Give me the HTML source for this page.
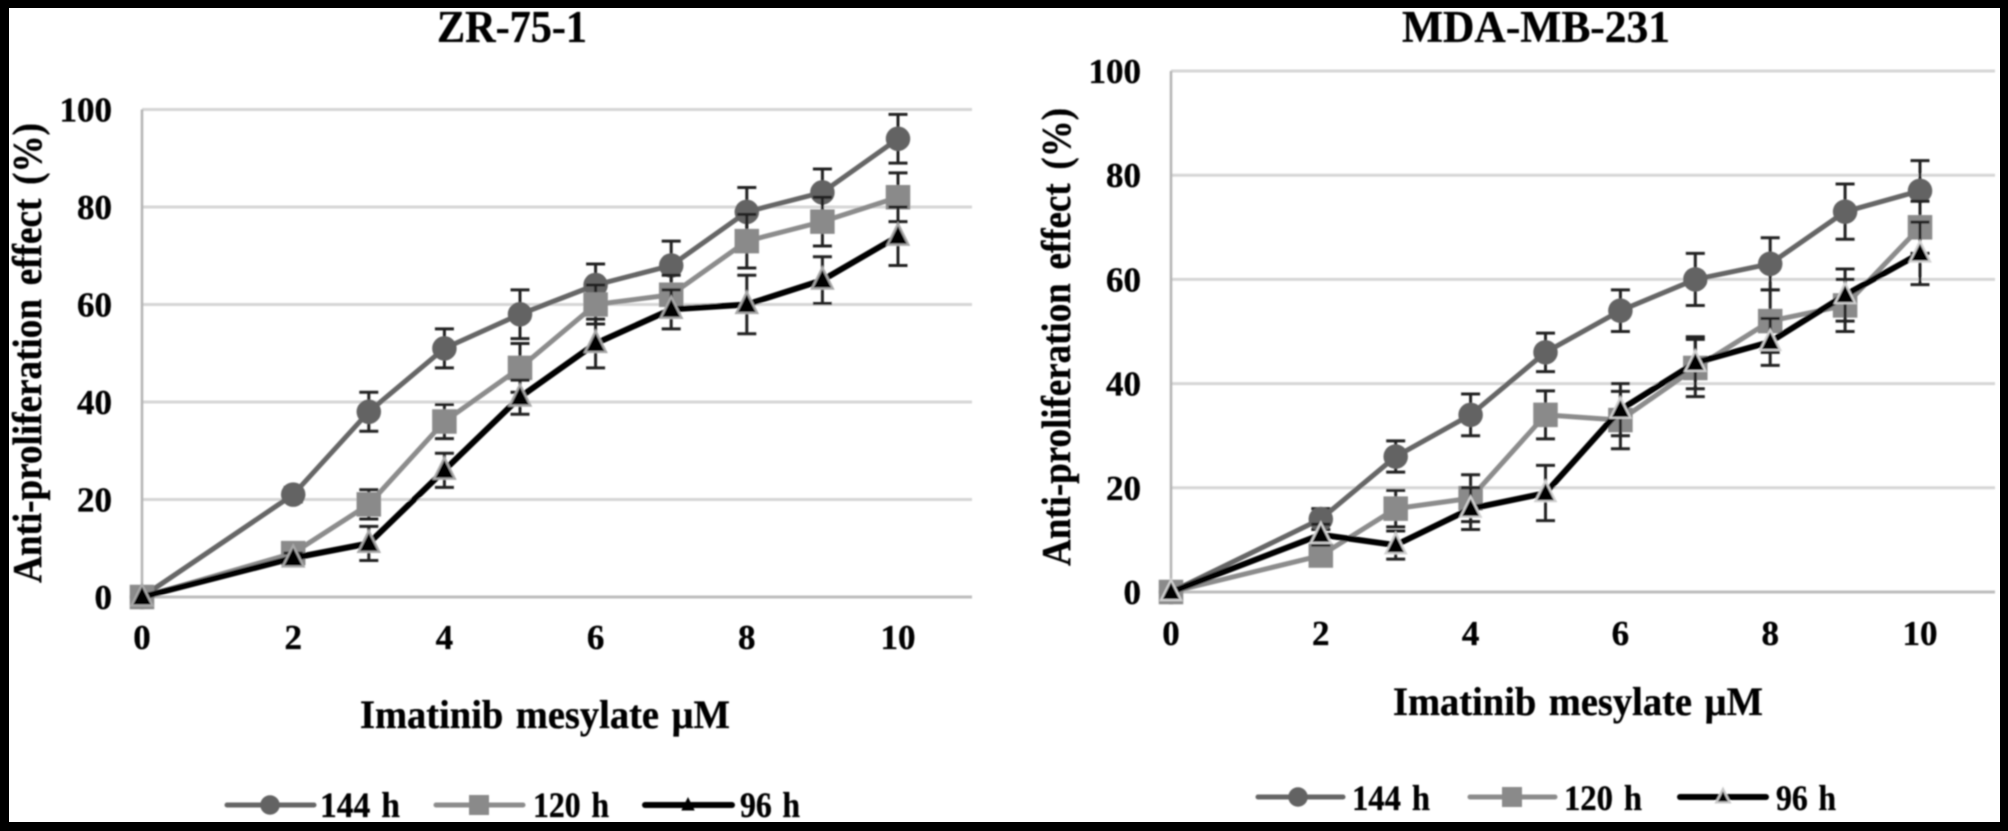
<!DOCTYPE html>
<html lang="en">
<head>
<meta charset="utf-8">
<title>Imatinib mesylate anti-proliferation charts</title>
<style>
html,body{margin:0;padding:0;background:#000;}
svg{display:block;}
text{font-family:"Liberation Serif",serif;font-weight:bold;fill:#000;stroke:#111;stroke-width:0.35px;}
</style>
</head>
<body>
<svg id="fig" xmlns="http://www.w3.org/2000/svg" width="2008" height="831" viewBox="0 0 2008 831">
  <defs>
    <filter id="soft" x="-2%" y="-2%" width="104%" height="104%"><feGaussianBlur stdDeviation="0.8"/></filter>
  </defs>
  <rect x="0" y="0" width="2008" height="831" fill="#ffffff"/>
  <g id="content" filter="url(#soft)"></g>
  <path fill="#000" fill-rule="evenodd" d="M0 0H2008V831H0Z M9 8V822H2000V8Z"/>
</svg>
<script>
const xValues = [0, 2, 3, 4, 5, 6, 7, 8, 9, 10];
const xTickLabels = [0, 2, 4, 6, 8, 10];
const yTickLabels = [0, 20, 40, 60, 80, 100];
const seriesNames = ['144 h', '120 h', '96 h'];

const zr144 = [0, 21, 38, 51, 58, 64, 68, 79, 83, 94];
const zr120 = [0, 9, 19, 36, 47, 60, 62, 73, 77, 82];
const zr96 = [0, 8, 11, 26, 41, 52, 59, 60, 65, 74];
const zr144Err = [0, 1.5, 4, 4, 5, 4.3, 5, 5, 4.8, 5];
const zr120Err = [0, 1, 3, 3.5, 5, 4, 4, 5.5, 5, 5];
const zr96Err = [0, 1, 3.5, 3.5, 3.5, 5, 4, 6, 4.8, 6];

const mda144 = [0, 14, 26, 34, 46, 54, 60, 63, 73, 77];
const mda120 = [0, 7, 16, 18, 34, 33, 43, 52, 55, 70];
const mda96 = [0, 11, 9, 16, 19, 35, 44, 48, 57, 65];
const mda144Err = [0, 2, 3, 4, 3.7, 4, 5, 5, 5.3, 5.8];
const mda120Err = [0, 1, 3.5, 4.5, 4.6, 5.5, 5.5, 6, 5, 5];
const mda96Err = [0, 2, 2.7, 4, 5.3, 5, 5, 4.5, 5, 6];

const panelZr = {
  key: 'zr75', title: 'ZR-75-1', titleX: 437, titleLen: 150, titleY: 42, titleSize: 45,
  x0: 142, xUnit: 75.6, right: 972, y0: 597, yUnit: 4.875,
  yLabelRight: 112, labelSize: 35, xLabelY: 649,
  yTitleX: 41, yTitleTop: 123, yTitleBottom: 583,
  xTitleX: 360, xTitleY: 728, xTitleLen: 370,
  triStroke: '#a8a8a8', triSize: 25, legendTriStroke: 'none',
  legendY: 805, legendBase: 817,
  legend: [[227, 314, 270, 320, 80], [436, 523, 479, 533, 76], [645, 732, 688, 740, 60]],
  series: [zr144, zr120, zr96], errors: [zr144Err, zr120Err, zr96Err]
};
const panelMda = {
  key: 'mda231', title: 'MDA-MB-231', titleX: 1402, titleLen: 268, titleY: 42, titleSize: 45,
  x0: 1171, xUnit: 74.9, right: 1995, y0: 592, yUnit: 5.21,
  yLabelRight: 1141, labelSize: 35, xLabelY: 645,
  yTitleX: 1070, yTitleTop: 108, yTitleBottom: 566,
  xTitleX: 1393, xTitleY: 715, xTitleLen: 370,
  triStroke: '#d0d0d0', triSize: 24, legendTriStroke: '#c8c8c8',
  legendY: 797, legendBase: 810,
  legend: [[1258, 1343, 1298, 1352, 78], [1470, 1555, 1512, 1564, 78], [1680, 1766, 1723, 1776, 60]],
  series: [mda144, mda120, mda96], errors: [mda144Err, mda120Err, mda96Err]
};

const NS = 'http://www.w3.org/2000/svg';
const root = document.getElementById('content');
const lineColors = ['#666666', '#8c8c8c', '#000000'];
const lineWidths = [5, 5, 6];
const slugs = ['144h', '120h', '96h'];

function shape(tag, attrs, parent) {
  const el = document.createElementNS(NS, tag);
  for (const k in attrs) el.setAttribute(k, attrs[k]);
  parent.appendChild(el);
  return el;
}
function xScale(p, v) { return p.x0 + v * p.xUnit; }
function yScale(p, v) { return p.y0 - v * p.yUnit; }

function drawMarker(kind, cx, cy, size, triStroke, parent, name) {
  let m;
  if (kind === 0) {
    m = shape('ellipse', { cx: cx, cy: cy, rx: size / 2, ry: size / 2, fill: '#636363' }, parent);
  } else if (kind === 1) {
    m = shape('rect', { x: cx - size / 2, y: cy - size / 2, width: size, height: size, fill: '#8a8a8a' }, parent);
  } else {
    const hw = size * 0.42;
    const pts = (cx - hw) + ',' + (cy + size * 0.34) + ' ' + (cx + hw) + ',' + (cy + size * 0.34) + ' ' + cx + ',' + (cy - size * 0.5);
    m = shape('polygon', { points: pts, fill: '#000', stroke: triStroke, 'stroke-width': 2.2 }, parent);
  }
  
  
}

function drawPanel(p) {
  const g = shape('g', {}, root);
  
  

  const title = shape('text', { x: p.titleX, y: p.titleY, 'font-size': p.titleSize, textLength: p.titleLen, lengthAdjust: 'spacingAndGlyphs' }, g);
  title.textContent = p.title;
  
  

  yTickLabels.forEach(function (t) {
    const gy = yScale(p, t);
    const grid = shape('line', { x1: p.x0, x2: p.right, y1: gy, y2: gy, stroke: t === 0 ? '#bdbdbd' : '#d6d6d6', 'stroke-width': 3 }, g);
    
    
    const lab = shape('text', { x: p.yLabelRight, y: gy + 12, 'text-anchor': 'end', 'font-size': p.labelSize }, g);
    lab.textContent = t;
    
    
  });

  const axis = shape('line', { x1: p.x0, x2: p.x0, y1: yScale(p, 100), y2: yScale(p, 0), stroke: '#b4b4b4', 'stroke-width': 2.5 }, g);
  
  

  xTickLabels.forEach(function (t) {
    const lab = shape('text', { x: xScale(p, t), y: p.xLabelY, 'text-anchor': 'middle', 'font-size': p.labelSize }, g);
    lab.textContent = t;
    
    
  });

  const yLen = p.yTitleBottom - p.yTitleTop;
  const yt = shape('text', { transform: 'translate(' + p.yTitleX + ' ' + p.yTitleBottom + ') rotate(-90)', x: 0, y: 0, 'font-size': 41, 'word-spacing': 5, textLength: yLen, lengthAdjust: 'spacingAndGlyphs' }, g);
  yt.textContent = 'Anti-proliferation effect (%)';
  
  

  const xt = shape('text', { x: p.xTitleX, y: p.xTitleY, 'font-size': 40, 'word-spacing': 3, textLength: p.xTitleLen, lengthAdjust: 'spacingAndGlyphs' }, g);
  xt.textContent = 'Imatinib mesylate \u00b5M';
  
  

  p.series.forEach(function (vals, s) {
    const sg = shape('g', {}, g);
    
    

    vals.forEach(function (v, i) {
      const e = p.errors[s][i];
      if (!e) return;
      const cx = xScale(p, xValues[i]);
      const top = yScale(p, v + e);
      const bot = yScale(p, v - e);
      const bar = shape('path', {
        d: 'M' + cx + ' ' + top + 'V' + bot + 'M' + (cx - 9.5) + ' ' + top + 'H' + (cx + 9.5) + 'M' + (cx - 9.5) + ' ' + bot + 'H' + (cx + 9.5),
        stroke: '#222222', 'stroke-width': 3, fill: 'none'
      }, sg);
      
      
    });

    const pts = vals.map(function (v, i) { return xScale(p, xValues[i]) + ',' + yScale(p, v); }).join(' ');
    const line = shape('polyline', { points: pts, fill: 'none', stroke: lineColors[s], 'stroke-width': lineWidths[s], 'stroke-linejoin': 'round' }, sg);
    
    

    const dataSizes = [24.5, 24.5, p.triSize];
    vals.forEach(function (v, i) {
      drawMarker(s, xScale(p, xValues[i]), yScale(p, v), dataSizes[s], p.triStroke, sg, 'marker-' + slugs[s] + '-' + xValues[i]);
    });
  });

  seriesNames.forEach(function (name, s) {
    const L = p.legend[s];
    const lg = shape('g', {}, g);
    
    
    const sw = shape('line', { x1: L[0], x2: L[1], y1: p.legendY, y2: p.legendY, stroke: lineColors[s], 'stroke-width': lineWidths[s], 'stroke-linecap': 'round' }, lg);
    
    
    const legendSizes = [19.5, 20, 16];
    drawMarker(s, L[2], p.legendY, legendSizes[s], p.legendTriStroke, lg, 'legend-marker-' + slugs[s]);
    const txt = shape('text', { x: L[3], y: p.legendBase, 'font-size': 35.5, 'word-spacing': 3, textLength: L[4], lengthAdjust: 'spacingAndGlyphs' }, lg);
    txt.textContent = name;
    
    
  });
}

drawPanel(panelZr);
drawPanel(panelMda);
</script>
</body>
</html>
